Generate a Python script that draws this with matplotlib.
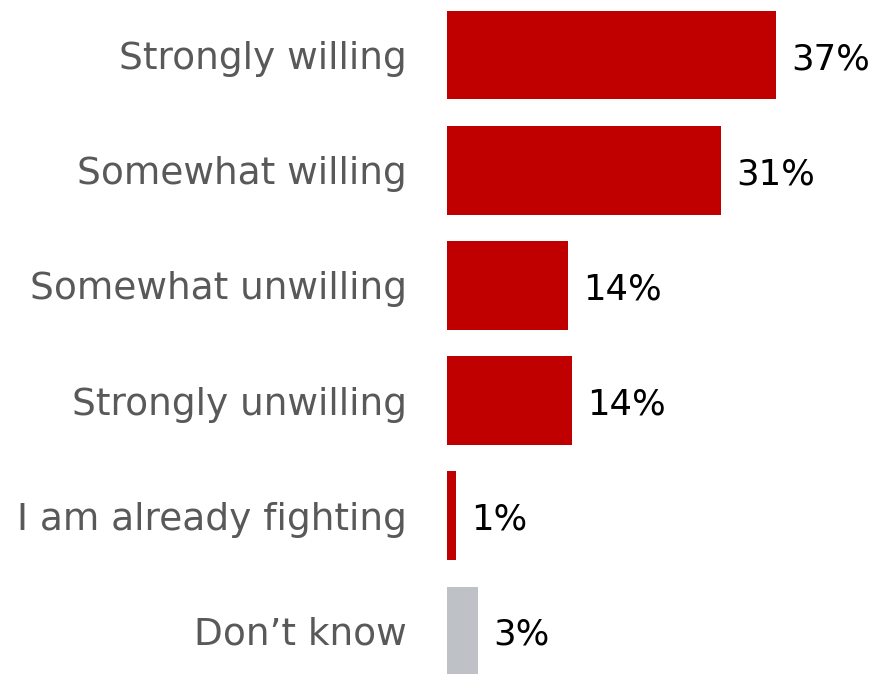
import matplotlib
matplotlib.use("Agg")
import matplotlib.pyplot as plt

# --- data ---
categories = ["Strongly willing", "Somewhat willing", "Somewhat unwilling",
              "Strongly unwilling", "I am already fighting", "Don\u2019t know"]
values = [36.9, 30.7, 13.6, 14.0, 1.0, 3.5]
value_labels = ["37%", "31%", "14%", "14%", "1%", "3%"]
colors = ["#C00000"] * 5 + ["#BEC2C6"]

# --- plot ---
fig = plt.figure(figsize=(8.73, 6.74), dpi=100)
ax = fig.add_axes([447 / 873, 0, 1 - 447 / 873, 1])

pos = list(range(len(categories)))
ax.barh(pos, values, height=0.77, color=colors)

for p, v, lab in zip(pos, values, value_labels):
    ax.annotate(lab, (v, p), xytext=(15, -4), textcoords="offset pixels",
                va="center", ha="left", fontsize=25.5, color="black")

ax.set_yticks(pos)
ax.set_yticklabels(categories, fontsize=27, color="#595959")
ax.tick_params(axis="y", length=0, pad=29)
ax.set_xticks([])
ax.set_xlim(0, 426 / 8.92)
ax.set_ylim(5.374, -0.478)
for s in ax.spines.values():
    s.set_visible(False)

plt.savefig("out.png", dpi=100)
